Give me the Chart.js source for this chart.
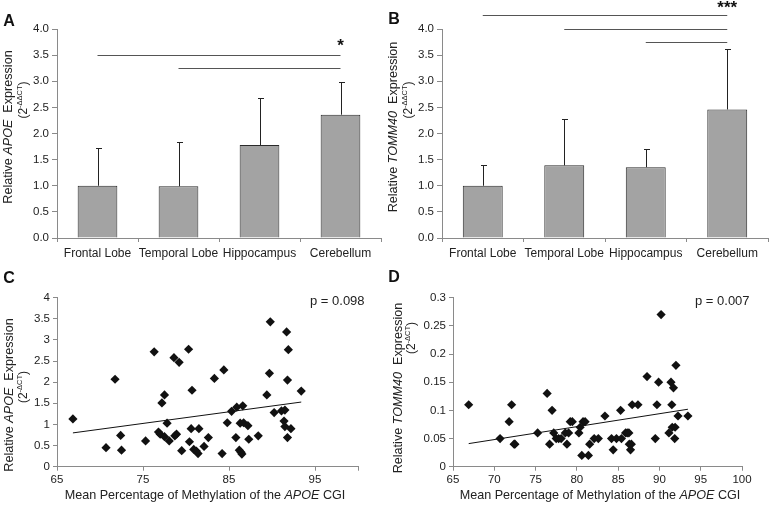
<!DOCTYPE html>
<html>
<head>
<meta charset="utf-8">
<script src="https://cdn.jsdelivr.net/npm/chart.js@4"></script>
<style>
  body { margin: 0; background: #fff; width: 770px; height: 505px; overflow: hidden; position: relative;
         font-family: "Liberation Sans", Arial, sans-serif; color: #222; }
  .panel { position: absolute; }
  .txt { position: absolute; white-space: nowrap; line-height: 1; transform: translate(-50%, -50%); }
  .left { transform: translate(0, -50%); }
  .rot { transform: translate(-50%, -50%) rotate(-90deg); }
  .letter { font-weight: bold; font-size: 16px; color: #111; }
  .ytitle { font-size: 12.6px; }
  .ysub { font-size: 12px; }
  .ysub sup { font-size: 7.5px; vertical-align: 5px; }
  .xtitle { font-size: 12.6px; }
  .pval { font-size: 13px; }
</style>
</head>
<body>
<div class="panel" style="left:0;top:0;width:385px;height:262px"><canvas id="chartA"></canvas></div>
<div class="panel" style="left:385px;top:0;width:385px;height:262px"><canvas id="chartB"></canvas></div>
<div class="panel" style="left:0;top:262px;width:385px;height:243px"><canvas id="chartC"></canvas></div>
<div class="panel" style="left:385px;top:262px;width:385px;height:243px"><canvas id="chartD"></canvas></div>

<div class="txt letter" style="left:9px;top:21px">A</div>
<div class="txt letter" style="left:394px;top:19px">B</div>
<div class="txt letter" style="left:9px;top:278px">C</div>
<div class="txt letter" style="left:394px;top:277px">D</div>

<div class="txt rot ytitle" style="left:8px;top:127px">Relative <i>APOE</i>&nbsp; Expression</div>
<div class="txt rot ysub" style="left:22px;top:100px">(2<sup>-ΔΔCT</sup>)</div>
<div class="txt rot ytitle" style="left:393px;top:127px">Relative <i>TOMM40</i>&nbsp; Expression</div>
<div class="txt rot ysub" style="left:407px;top:100px">(2<sup>-ΔΔCT</sup>)</div>
<div class="txt rot ytitle" style="left:9px;top:395px">Relative <i>APOE</i>&nbsp; Expression</div>
<div class="txt rot ysub" style="left:22px;top:387px">(2<sup>-ΔCT</sup>)</div>
<div class="txt rot ytitle" style="left:398px;top:388px">Relative <i>TOMM40</i>&nbsp; Expression</div>
<div class="txt rot ysub" style="left:410px;top:338px">(2<sup>-ΔCT</sup>)</div>

<div class="txt xtitle" style="left:205px;top:495px">Mean Percentage of Methylation of the <i>APOE</i> CGI</div>
<div class="txt xtitle" style="left:600px;top:495px">Mean Percentage of Methylation of the <i>APOE</i> CGI</div>
<div class="txt left pval" style="left:310px;top:300px">p = 0.098</div>
<div class="txt left pval" style="left:695px;top:300px">p = 0.007</div>

<script>
// bar panels (A, B)
const regions = ["Frontal Lobe", "Temporal Lobe", "Hippocampus", "Cerebellum"];
const apoeMean = [1.0, 0.99, 1.78, 2.36];
const apoeSd = [0.72, 0.84, 0.89, 0.63];
const tommMean = [1.0, 1.39, 1.355, 2.46];
const tommSd = [0.4, 0.89, 0.345, 1.16];
const apoeSig = [["Frontal Lobe", "Cerebellum", 3.51], ["Temporal Lobe", "Cerebellum", 3.26]];
const apoeStar = ["*", 3.73];
const tommSig = [["Frontal Lobe", "Cerebellum", 4.26], ["Temporal Lobe", "Cerebellum", 4.0], ["Hippocampus", "Cerebellum", 3.75]];
const tommStar = ["***", 4.45];

// scatter panels (C, D)
const methTicksC = [65, 75, 85, 95, 100];
const methTicksD = [65, 70, 75, 80, 85, 90, 95, 100];
const methC = [66.85, 70.7, 71.75, 72.4, 72.5, 75.3, 76.3, 76.8, 77.0, 77.2, 77.5, 77.5, 77.8, 78.05, 78.6, 78.7, 78.9, 79.2, 79.5, 80.3,
  80.4, 80.6, 80.7, 80.9, 81.2, 81.4, 81.5, 82.1, 82.6, 83.3, 84.2, 84.4, 84.8, 85.3, 85.8, 85.9, 86.2, 86.3, 86.4, 86.5,
  86.6, 86.7, 87.2, 87.3, 88.4, 89.4, 89.7, 89.8, 90.25, 91.1, 91.4, 91.5, 91.5, 91.7, 91.8, 91.9, 91.8, 92.2, 93.4];
const apoeExpr = [1.13, 0.45, 2.07, 0.74, 0.39, 0.61, 2.72, 0.82, 0.77, 1.51, 1.7, 0.71, 1.03, 0.61, 2.58, 0.73, 0.77, 2.47, 0.38, 2.78,
  0.59, 0.9, 1.81, 0.41, 0.37, 0.31, 0.9, 0.48, 0.69, 2.09, 0.31, 2.29, 1.04, 1.31, 0.69, 1.41, 0.39, 1.03, 0.34, 0.3,
  1.44, 1.04, 0.97, 0.65, 0.73, 1.7, 2.21, 3.43, 1.28, 1.32, 1.08, 1.34, 0.95, 3.19, 2.05, 2.77, 0.69, 0.9, 1.79];
const trendC = [[66.85, 0.8], [93.4, 1.53]];

const methD = [66.9, 70.7, 71.8, 72.1, 72.4, 72.5, 75.25, 76.4, 76.7, 77.0, 77.2, 77.5, 77.8, 78.1, 78.6, 78.8, 79.0, 79.2, 79.45, 80.25,
  80.4, 80.6, 80.75, 81.0, 81.4, 81.55, 82.1, 82.6, 83.4, 84.2, 84.4, 84.8, 85.3, 85.4, 85.9, 86.1, 86.3, 86.35, 86.5, 86.6,
  86.7, 87.4, 88.5, 89.5, 89.7, 89.9, 90.2, 91.15, 91.4, 91.5, 91.55, 91.7, 91.85, 91.9, 92.0, 92.25, 93.45];
const tommExpr = [0.11, 0.05, 0.08, 0.11, 0.04, 0.04, 0.06, 0.13, 0.04, 0.1, 0.06, 0.05, 0.05, 0.05, 0.06, 0.04, 0.06, 0.08, 0.08, 0.06,
  0.07, 0.02, 0.08, 0.08, 0.02, 0.04, 0.05, 0.05, 0.09, 0.05, 0.03, 0.05, 0.1, 0.05, 0.06, 0.06, 0.06, 0.04, 0.03, 0.04,
  0.11, 0.11, 0.16, 0.05, 0.11, 0.15, 0.27, 0.06, 0.15, 0.11, 0.07, 0.14, 0.05, 0.07, 0.18, 0.09, 0.09];
const trendD = [[66.9, 0.041], [93.45, 0.102]];

Chart.defaults.font.family = "'Liberation Sans', Arial, sans-serif";
Chart.defaults.color = "#222";

const axisGrey = "#8a8a8a";

function errorAndSig(means, sds, sig, star) {
  return {
    id: "errorAndSig",
    afterDatasetsDraw(chart) {
      const { ctx, scales } = chart;
      const x = scales.x, y = scales.y;
      ctx.save();
      ctx.lineWidth = 1;
      ctx.strokeStyle = "#222";
      means.forEach((m, i) => {
        const px = Math.round(x.getPixelForValue(i)) + 0.5;
        const y0 = y.getPixelForValue(m);
        const y1 = Math.round(y.getPixelForValue(m + sds[i])) + 0.5;
        ctx.beginPath();
        ctx.moveTo(px, y0);
        ctx.lineTo(px, y1);
        ctx.moveTo(px - 2.5, y1);
        ctx.lineTo(px + 3.5, y1);
        ctx.stroke();
      });
      ctx.strokeStyle = "#555";
      sig.forEach(([from, to, v]) => {
        const yy = Math.round(y.getPixelForValue(v)) + 0.5;
        ctx.beginPath();
        ctx.moveTo(x.getPixelForValue(regions.indexOf(from)), yy);
        ctx.lineTo(x.getPixelForValue(regions.indexOf(to)), yy);
        ctx.stroke();
      });
      ctx.fillStyle = "#111";
      ctx.font = "bold 17px 'Liberation Sans', Arial, sans-serif";
      ctx.textAlign = "center";
      ctx.textBaseline = "middle";
      ctx.fillText(star[0], x.getPixelForValue(3), y.getPixelForValue(star[1]) + 3);
      ctx.restore();
    },
  };
}

function barChart(id, means, sds, sig, star, rightPad) {
  return new Chart(document.getElementById(id), {
    type: "bar",
    data: {
      labels: regions,
      datasets: [{
        data: means,
        backgroundColor: "#a3a3a3",
        borderColor: "#2a2a2a",
        borderWidth: 1,
        categoryPercentage: 1,
        barPercentage: 0.49,
      }],
    },
    options: {
      responsive: true,
      maintainAspectRatio: false,
      animation: false,
      layout: { padding: { top: 29, right: rightPad, left: 0, bottom: 0 } },
      plugins: { legend: { display: false }, tooltip: { enabled: false } },
      scales: {
        x: {
          grid: { display: true, drawOnChartArea: false, tickLength: 4, color: axisGrey, offset: true },
          border: { color: axisGrey },
          ticks: { autoSkip: false, maxRotation: 0, minRotation: 0, padding: 4, font: { size: 12 } },
          afterFit(s) { s.height = 24; },
        },
        y: {
          min: 0,
          max: 4,
          grid: { drawOnChartArea: false, tickLength: 5, color: axisGrey },
          border: { color: axisGrey },
          ticks: { stepSize: 0.5, padding: 3, font: { size: 11.5 }, callback: (v) => v.toFixed(1) },
          afterFit(s) { s.width = 57; },
        },
      },
    },
    plugins: [errorAndSig(means, sds, sig, star)],
  });
}

function scatterChart(id, xs, ys, trend, yMax, yStep, xTicks, yWidth, rightPad, xLabel) {
  return new Chart(document.getElementById(id), {
    type: "scatter",
    data: {
      datasets: [
        {
          data: xs.map((v, i) => ({ x: v, y: ys[i] })),
          pointStyle: "rectRot",
          pointRadius: 4.6,
          backgroundColor: "#111",
          borderColor: "#111",
          borderWidth: 0,
        },
        {
          data: trend.map(([a, b]) => ({ x: a, y: b })),
          showLine: true,
          pointRadius: 0,
          borderColor: "#111",
          borderWidth: 1,
        },
      ],
    },
    options: {
      responsive: true,
      maintainAspectRatio: false,
      animation: false,
      layout: { padding: { top: 35.7, right: rightPad, left: 0, bottom: 0 } },
      plugins: { legend: { display: false }, tooltip: { enabled: false } },
      scales: {
        x: {
          type: "linear",
          min: 65,
          max: 100,
          grid: { drawOnChartArea: false, tickLength: 4, color: axisGrey },
          border: { color: axisGrey },
          afterBuildTicks(s) { s.ticks = xTicks.map((v) => ({ value: v })); },
          ticks: { padding: 2, maxRotation: 0, font: { size: 11.5 }, callback: xLabel },
          afterFit(s) { s.height = 38.3; },
        },
        y: {
          min: 0,
          max: yMax,
          grid: { drawOnChartArea: false, tickLength: 4, color: axisGrey },
          border: { color: axisGrey },
          ticks: { stepSize: yStep, padding: 3, font: { size: 11.5 }, callback: (v) => String(Math.round(v * 100) / 100) },
          afterFit(s) { s.width = yWidth; },
        },
      },
    },
  });
}

barChart("chartA", apoeMean, apoeSd, apoeSig, apoeStar, 4);
barChart("chartB", tommMean, tommSd, tommSig, tommStar, 2);
scatterChart("chartC", methC, apoeExpr, trendC, 4, 0.5, methTicksC, 57, 27, (v) => (v === 100 ? "" : v));
scatterChart("chartD", methD, tommExpr, trendD, 0.3, 0.05, methTicksD, 68, 28, (v) => v);
</script>
</body>
</html>
